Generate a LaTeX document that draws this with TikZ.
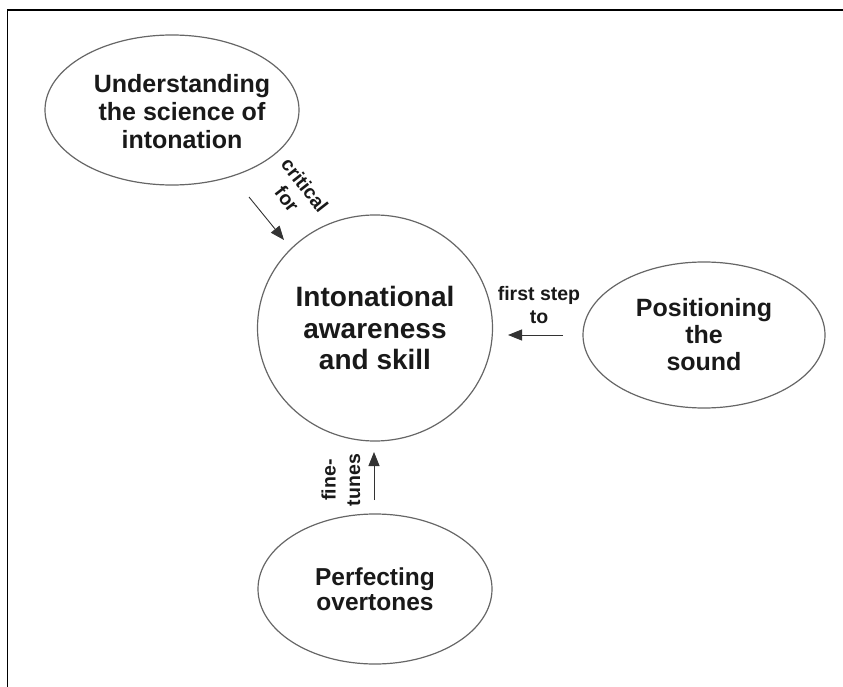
\documentclass[tikz,border=0pt]{standalone}
\usepackage{fontspec}
\setmainfont{Liberation Sans}
\usetikzlibrary{shapes.geometric,arrows.meta}
\begin{document}
\begin{tikzpicture}[x=1pt,y=-1pt,
  bubble/.style={draw=black!60,line width=1.2pt,ellipse,inner sep=0pt},
  bigtext/.style={font=\bfseries\fontsize{28}{31.7}\selectfont,align=center,text=black!90},
  btext/.style={font=\bfseries\fontsize{25}{28}\selectfont,align=center,text=black!90},
  link/.style={draw=black!80,line width=0.9pt,-{Triangle[length=14pt,width=11pt]}},
  lbl/.style={font=\bfseries\fontsize{19.5}{22.5}\selectfont,align=center,inner sep=0pt,text=black!90}]
\useasboundingbox (0,0) rectangle (843,687);
% frame
\draw[line width=1.5pt] (7.5,687) -- (7.5,10) -- (843,10);

% concept bubbles
\node[bubble,minimum width=254pt,minimum height=150pt] (u) at (172,110) {};
\node[btext] (utext) at (182,112) {Understanding\\the science of\\intonation};
\node[bubble,bigtext,minimum width=235pt,minimum height=226pt] (c) at (375,328) {Intonational\\awareness\\and skill};
\node[bubble,btext,minimum width=242pt,minimum height=146pt,font=\bfseries\fontsize{25}{27}\selectfont] (p) at (704,335) {Positioning\\the\\sound};
\node[bubble,btext,minimum width=234pt,minimum height=150pt,font=\bfseries\fontsize{24.5}{25}\selectfont] (o) at (375,589) {Perfecting\\overtones};

% connector end points
\coordinate (u-out) at (249,197);
\coordinate (c-in-u) at (284,240);
\coordinate (p-out) at (563,335);
\coordinate (c-in-p) at (508,335);
\coordinate (o-out) at (374,500);
\coordinate (c-in-o) at (374,452);

% connectors
\draw[link] (u-out) -- (c-in-u);
\draw[link] (p-out) -- (c-in-p);
\draw[link] (o-out) -- (c-in-o);

% connector labels
\node[lbl,rotate=-52] (l1) at (296,192) {critical\\for};
\node[lbl] (l2) at (539,305) {first step\\to};
\node[lbl,rotate=90,font=\bfseries\fontsize{19.5}{24.5}\selectfont] (l3) at (341,480) {fine-\\tunes};
\end{tikzpicture}
\end{document}
